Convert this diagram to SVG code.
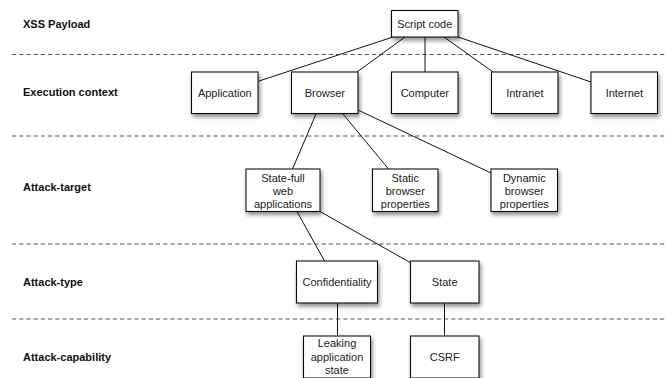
<svg xmlns="http://www.w3.org/2000/svg" width="665" height="378" viewBox="0 0 665 378">
<defs>
<filter id="sh" x="-20%" y="-20%" width="150%" height="160%">
<feDropShadow dx="1.5" dy="3" stdDeviation="2" flood-color="#000" flood-opacity="0.45"/>
</filter>
<style>
.box{fill:#fff;stroke:#111;stroke-width:1.1;filter:url(#sh)}
.t{font-family:"Liberation Sans",Arial,sans-serif;font-size:11px;fill:#222;text-anchor:middle}
.lab{font-family:"Liberation Sans",Arial,sans-serif;font-size:11px;font-weight:bold;fill:#111}
.dash{stroke:#555;stroke-width:1.1;stroke-dasharray:4.2 3}
.c{stroke:#111;stroke-width:1;fill:none}
</style>
</defs>
<rect width="665" height="378" fill="#fff"/>
<g id="bands">
<line class="dash" x1="12" y1="54.5" x2="665" y2="54.5"/>
<line class="dash" x1="12" y1="136" x2="665" y2="136"/>
<line class="dash" x1="12" y1="244" x2="665" y2="244"/>
<line class="dash" x1="12" y1="319" x2="665" y2="319"/>
<text class="lab" x="23" y="28">XSS Payload</text>
<text class="lab" x="23" y="96">Execution context</text>
<text class="lab" x="23" y="191">Attack-target</text>
<text class="lab" x="23" y="285.5">Attack-type</text>
<text class="lab" x="23" y="360.5">Attack-capability</text>
</g>
<g id="connectors">
<line class="c" x1="393" y1="37" x2="259" y2="81"/>
<line class="c" x1="405" y1="37" x2="357" y2="72"/>
<line class="c" x1="425" y1="37" x2="425" y2="72"/>
<line class="c" x1="444" y1="37" x2="493" y2="72"/>
<line class="c" x1="458" y1="37" x2="591" y2="82"/>
<line class="c" x1="316" y1="114" x2="292.5" y2="169"/>
<line class="c" x1="343" y1="114" x2="388.5" y2="169"/>
<line class="c" x1="358" y1="110" x2="491" y2="173"/>
<line class="c" x1="297" y1="211.5" x2="324.5" y2="261"/>
<line class="c" x1="320" y1="211.5" x2="411" y2="263"/>
<line class="c" x1="337.5" y1="303" x2="337.5" y2="336"/>
<line class="c" x1="444.5" y1="303" x2="444.5" y2="336"/>
</g>
<g id="script-code"><rect class="box" x="391.5" y="10.5" width="66.5" height="26.5"/><text class="t" x="424.8" y="27.5">Script code</text></g>
<g id="application"><rect class="box" x="191.5" y="72" width="66.5" height="41.5"/><text class="t" x="224.8" y="96.5">Application</text></g>
<g id="browser"><rect class="box" x="291.5" y="72" width="66.5" height="41.5"/><text class="t" x="324.8" y="96.5">Browser</text></g>
<g id="computer"><rect class="box" x="391.5" y="72" width="66.5" height="41.5"/><text class="t" x="424.8" y="96.5">Computer</text></g>
<g id="intranet"><rect class="box" x="491.5" y="72" width="66.5" height="41.5"/><text class="t" x="524.8" y="96.5">Intranet</text></g>
<g id="internet"><rect class="box" x="591" y="72" width="66.5" height="41.5"/><text class="t" x="624.3" y="96.5">Internet</text></g>
<g id="state-full"><rect class="box" x="246" y="169" width="74" height="42.5"/><text class="t" x="283" y="181.5">State-full</text><text class="t" x="283" y="194.5">web</text><text class="t" x="283" y="207.5">applications</text></g>
<g id="static"><rect class="box" x="372.5" y="169" width="65.5" height="42.5"/><text class="t" x="405.3" y="181.5">Static</text><text class="t" x="405.3" y="194.5">browser</text><text class="t" x="405.3" y="207.5">properties</text></g>
<g id="dynamic"><rect class="box" x="491" y="169" width="66.5" height="42.5"/><text class="t" x="524.3" y="181.5">Dynamic</text><text class="t" x="524.3" y="194.5">browser</text><text class="t" x="524.3" y="207.5">properties</text></g>
<g id="confidentiality"><rect class="box" x="296.5" y="261" width="81" height="42"/><text class="t" x="337" y="285.5">Confidentiality</text></g>
<g id="state"><rect class="box" x="410.5" y="261" width="68.5" height="42"/><text class="t" x="444.7" y="285.5">State</text></g>
<g id="leaking"><rect class="box" x="303.5" y="336" width="67" height="42"/><text class="t" x="337" y="347">Leaking</text><text class="t" x="337" y="360.5">application</text><text class="t" x="337" y="373.5">state</text></g>
<g id="csrf"><rect class="box" x="410.5" y="336" width="68.5" height="42"/><text class="t" x="444.7" y="360.5">CSRF</text></g>
</svg>
